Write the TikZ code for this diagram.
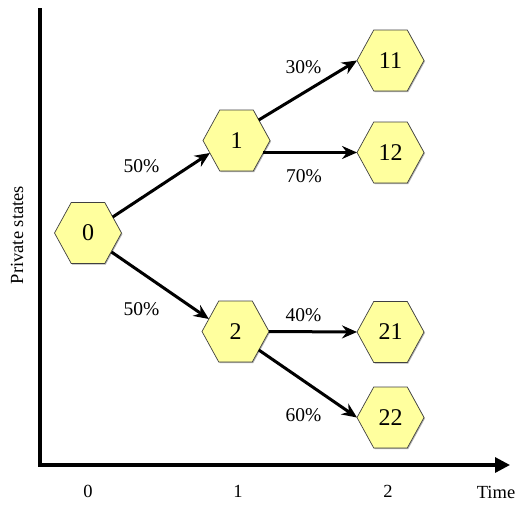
\documentclass[tikz,border=0pt]{standalone}
\usepackage{fontspec}
\setmainfont{Liberation Serif}
\usetikzlibrary{arrows.meta,calc}
\definecolor{hexyellow}{RGB}{255,255,158}
\tikzset{
  hexshape/.style={fill=hexyellow, draw=black!75, line width=0.7pt, line join=miter},
  hexshadow/.style={fill=black!30},
  hexlabel/.style={inner sep=0pt, font=\fontsize{24}{28}\selectfont},
  plabel/.style={inner sep=0pt, font=\fontsize{19.5}{23}\selectfont},
  axlabel/.style={inner sep=0pt, font=\fontsize{18.5}{22}\selectfont},
  link/.style={line width=3pt, -{Stealth[length=15pt,width=13pt,inset=5pt]}},
  axisline/.style={line width=3.2pt, line join=miter, -{Triangle[length=15pt,width=15pt]}},
}
\newcommand\hexoutline{(-33.5,0) -- (-16.75,-30.5) -- (16.75,-30.5) -- (33.5,0) -- (16.75,30.5) -- (-16.75,30.5) -- cycle}
\newcommand\hexnode[4]{%
  \path[hexshadow, shift={(#2+1,#3+1)}] \hexoutline;
  \path[hexshape, shift={(#2,#3)}] \hexoutline;
  \node[hexlabel] (#1) at (#2,#3) {#4};
}
\begin{document}
\begin{tikzpicture}[x=1pt,y=-1pt]
  \useasboundingbox (0,0) rectangle (519,506);
  % axes
  \coordinate (ytop) at (40,8);
  \coordinate (origin) at (40,465);
  \coordinate (xend) at (510,465);
  \draw[axisline] (ytop) -- (origin) -- (xend);
  \node[axlabel, rotate=90] (ylab) at (17,235) {Private states};
  \node[axlabel] (t0) at (88,491) {0};
  \node[axlabel] (t1) at (238,491) {1};
  \node[axlabel] (t2) at (388,491) {2};
  \node[axlabel] (tlab) at (496,492) {Time};
  % nodes
  \hexnode{n0}{88}{233}{0}
  \hexnode{n1}{236.5}{140.5}{1}
  \hexnode{n2}{235.5}{331.5}{2}
  \hexnode{n11}{390.5}{60.5}{11}
  \hexnode{n12}{390.5}{152.5}{12}
  \hexnode{n21}{390.5}{332}{21}
  \hexnode{n22}{390.5}{417.5}{22}
  % connectors
  \draw[link] ($(n0)+(24.7,-16)$) -- ($(n1)+(-26.6,12.5)$);
  \draw[link] ($(n0)+(23.5,19)$) -- ($(n2)+(-26.6,-12.5)$);
  \draw[link] ($(n1)+(22.2,-20.5)$) -- ($(n11)+(-33.5,0)$);
  \draw[link] ($(n1)+(26.6,12)$) -- ($(n12)+(-33.5,0)$);
  \draw[link] ($(n2)+(33.5,0)$) -- ($(n21)+(-33.5,0)$);
  \draw[link] ($(n2)+(23.3,18.5)$) -- ($(n22)+(-33.5,0)$);
  % labels
  \node[plabel] (p01) at (141.5,166) {50\%};
  \node[plabel] (p02) at (141.5,309.5) {50\%};
  \node[plabel] (p111) at (303.5,67) {30\%};
  \node[plabel] (p112) at (304,176) {70\%};
  \node[plabel] (p221) at (303.5,315.5) {40\%};
  \node[plabel] (p222) at (303.5,415) {60\%};
\end{tikzpicture}
\end{document}
